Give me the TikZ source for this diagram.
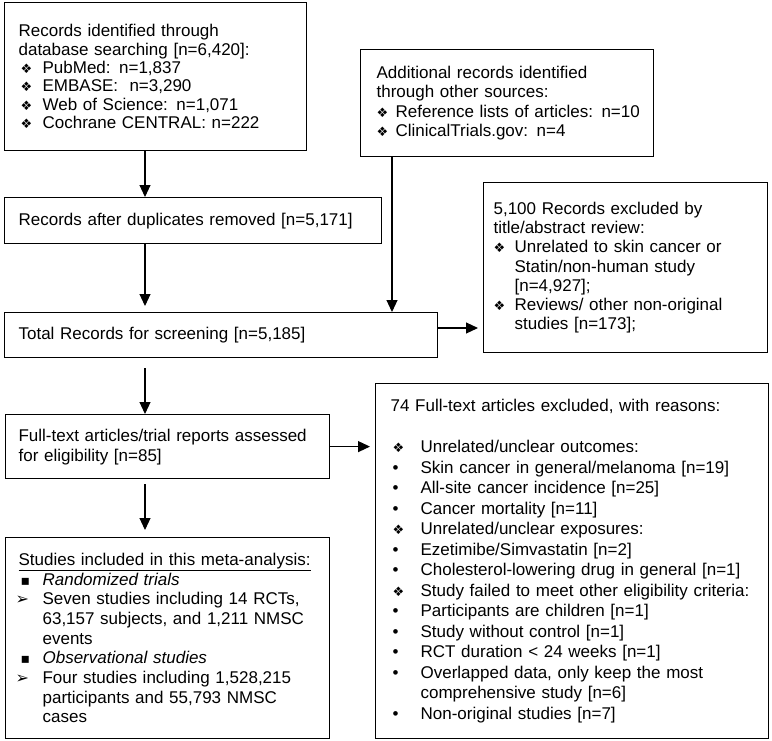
\documentclass[tikz,border=0pt]{standalone}
\usepackage{fontspec}
\setmainfont{Liberation Sans}
\newfontfamily\symfont{DejaVu Sans}
\usetikzlibrary{arrows.meta,positioning}
\setlength{\parindent}{0pt}
\setlength{\parskip}{0pt}
\newcommand{\pad}[1]{\leftskip=#1\relax}
\newcommand{\itm}[2]{\par\hangindent=#1\hangafter=1\makebox[#1][l]{#2}}
\newcommand{\dia}{{\symfont\fontsize{13}{13}\selectfont ❖}}
\newcommand{\sqb}{{\symfont\fontsize{14}{14}\selectfont ▪}}
\newcommand{\arh}{{\symfont\fontsize{16}{16}\selectfont ➢}}

\begin{document}
\begin{tikzpicture}[x=1pt,y=-1pt,
    arr/.style={line width=1.1pt, -{Triangle[length=12pt,width=11pt]}}]
            \useasboundingbox (0,0) rectangle (772,740);
            \begin{scope}[box/.style={draw, line width=1.2pt, anchor=north west, inner sep=0pt, align=left, font=\fontsize{17}{19.3}\selectfont}]
                \node(db) at (4,2) [box, minimum width=302pt, minimum height=148pt, text width=302pt, font=\fontsize{17}{18.3}\selectfont]
                    {\pad{14pt}Records identified through\\ database searching [n=6,420]:
                     \itm{24pt}{\hspace{2pt}\dia}PubMed: n=1,837
                     \itm{24pt}{\hspace{2pt}\dia}EMBASE:\ \ n=3,290
                     \itm{24pt}{\hspace{2pt}\dia}Web of Science: n=1,071
                     \itm{24pt}{\hspace{2pt}\dia}Cochrane CENTRAL: n=222\par};
                \node(other) at (360,49) [box, minimum width=293pt, minimum height=107pt, text width=293pt]
                    {\pad{16pt}Additional records identified\\ through other sources:
                     \itm{19pt}{\dia}Reference lists of articles: n=10
                     \itm{19pt}{\dia}ClinicalTrials.gov: n=4\par};
                %%%
                \node(dup) at (4,197) [box, minimum width=377pt, minimum height=46pt, text width=377pt]
                    {\pad{14pt}Records after duplicates removed [n=5,171]\par};
                \node(total) at (4,312) [box, minimum width=433pt, minimum height=45pt, text width=433pt]
                    {\pad{14pt}Total Records for screening [n=5,185]\par};
                \node(screenout) at (483,182) [box, minimum width=284pt, minimum height=170pt, text width=284pt]
                    {\pad{10pt}5,100 Records excluded by\\ title/abstract review:
                     \itm{21pt}{\dia}Unrelated to skin cancer or\newline Statin/non-human study\newline [n=4,927];
                     \itm{21pt}{\dia}Reviews/ other non-original\newline studies [n=173];\par};
                %%%
                \node(full) at (5,414) [box, minimum width=324pt, minimum height=64pt, text width=324pt, font=\fontsize{17}{20}\selectfont]
                    {\pad{13pt}Full-text articles/trial reports assessed\\ for eligibility [n=85]\par};
                \node(incl) at (5,537) [box, minimum width=324pt, minimum height=201pt, text width=324pt, font=\fontsize{17}{19.7}\selectfont]
                    {\pad{13pt}\underline{Studies included in this meta-analysis:}
                     \itm{24pt}{\hspace{2pt}\sqb}\textit{Randomized trials}
                     \itm{24pt}{\hspace{-3pt}\arh}Seven studies including 14 RCTs,\newline 63,157 subjects, and 1,211 NMSC\newline events
                     \itm{24pt}{\hspace{2pt}\sqb}\textit{Observational studies}
                     \itm{24pt}{\hspace{-3pt}\arh}Four studies including 1,528,215\newline participants and 55,793 NMSC\newline cases\par};
                \node(fulltextout) at (375,383) [box, minimum width=393pt, minimum height=355pt, text width=393pt, font=\fontsize{17}{20.5}\selectfont]
                    {\pad{15pt}74 Full-text articles excluded, with reasons:\par\vspace{20.5pt}
                     \itm{30pt}{\hspace{2pt}\dia}Unrelated/unclear outcomes:
                     \itm{30pt}{\hspace{2pt}•}Skin cancer in general/melanoma [n=19]
                     \itm{30pt}{\hspace{2pt}•}All-site cancer incidence [n=25]
                     \itm{30pt}{\hspace{2pt}•}Cancer mortality [n=11]
                     \itm{30pt}{\hspace{2pt}\dia}Unrelated/unclear exposures:
                     \itm{30pt}{\hspace{2pt}•}Ezetimibe/Simvastatin [n=2]
                     \itm{30pt}{\hspace{2pt}•}Cholesterol-lowering drug in general [n=1]
                     \itm{30pt}{\hspace{2pt}\dia}Study failed to meet other eligibility criteria:
                     \itm{30pt}{\hspace{2pt}•}Participants are children [n=1]
                     \itm{30pt}{\hspace{2pt}•}Study without control [n=1]
                     \itm{30pt}{\hspace{2pt}•}RCT duration < 24 weeks [n=1]
                     \itm{30pt}{\hspace{2pt}•}Overlapped data, only keep the most\newline comprehensive study [n=6]
                     \itm{30pt}{\hspace{2pt}•}Non-original studies [n=7]\par};
            \end{scope}
            \coordinate (spine) at (145,0);
            \coordinate (otherspine) at (392,0);
            \coordinate (screenrow) at (0,328);
            \draw[arr] (db.south -| spine) -- (dup.north -| spine);
            \draw[arr, shorten >=6pt] (dup.south -| spine) -- (total.north -| spine);
            \draw[arr] (other.south -| otherspine) -- (total.north -| otherspine);
            \draw[arr, shorten >=5pt] (total.east |- screenrow) -- (screenout.west |- screenrow);
            %
            \draw[arr, shorten <=10pt] (total.south -| spine) -- (full.north -| spine);
            \draw[arr, shorten <=5pt, shorten >=7pt] (full.south -| spine) -- (incl.north -| spine);
            \draw[arr, shorten >=5pt] (full.east) -- (fulltextout.west |- full.east);
        \end{tikzpicture}
\end{document}
